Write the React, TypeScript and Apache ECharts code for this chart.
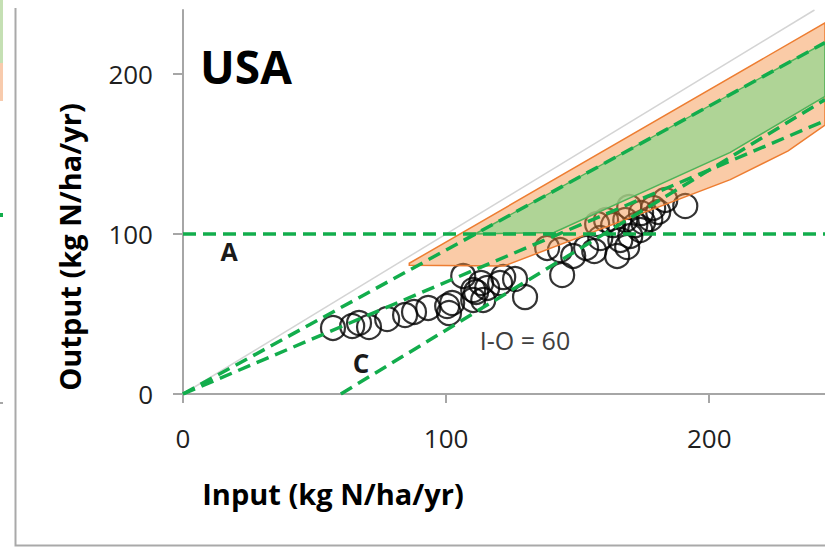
import React, { useEffect, useRef } from "react";
import * as echarts from "echarts";

const FONT = "'Open Sans', 'DejaVu Sans', sans-serif";

// Axis ticks
const xTicks = [0, 100, 200];
const yTicks = [0, 100, 200];
const xMax = 244;
const yMax = 240;

// Scatter observations (input, output) kg N/ha/yr
const inputN = [
  57.0, 64.3, 66.9, 70.7, 77.6, 84.4, 87.8, 93.2, 100.4, 101.1, 102.3, 106.5, 110.3, 111.4,
  113.3, 114.1, 115.6, 120.5, 121.7, 126.2, 130.0, 110.3, 138.4, 143.3, 144.1, 148.3, 153.2,
  156.3, 157.4, 160.8, 165.0, 168.8, 170.0, 169.6, 171.9, 174.1, 174.9, 177.6, 178.7, 183.3,
  190.9, 163.5, 166.2, 173.8, 168.1, 180.6, 158.6,
];
const outputN = [
  41.3, 42.5, 44.4, 41.9, 46.9, 49.4, 51.3, 53.8, 55.0, 50.6, 56.9, 73.8, 58.8, 63.8,
  69.4, 58.8, 66.3, 69.4, 73.1, 71.9, 60.6, 65.0, 91.3, 90.0, 74.4, 86.3, 91.3,
  89.4, 106.3, 108.8, 86.3, 91.9, 98.8, 116.9, 105.6, 113.1, 107.5, 109.4, 116.3, 121.3,
  117.5, 105.6, 96.3, 102.5, 108.8, 113.8, 97.5,
];

// Reference lines (data space)
const lineA = [[0, 100], [244, 100]];
const nue90 = [[0, 0], [244, 219.6]];
const nue70 = [[0, 0], [244, 170.8]];
const surplus60 = [[60, 0], [244, 184]];
const oneToOne = [[0, 0], [240, 240]];

// Regions (data space)
const orangeRegion = [[86, 80.5], [122, 80], [208, 134], [230, 152], [244, 168], [244, 232], [86, 81.7]];
const greenRegion = [[111, 100], [141, 101], [208, 151], [244, 186], [244, 219.6]];

const DASH_GREEN = "#12ad4c";

function dashedLine(data: number[][]) {
  return {
    type: "line",
    data,
    symbol: "none",
    silent: true,
    z: 6,
    lineStyle: { color: DASH_GREEN, width: 3.5, type: [13, 7] },
  };
}

function regionSeries(points: number[][], fill: string, stroke: string, z: number) {
  return {
    type: "custom",
    coordinateSystem: "cartesian2d",
    silent: true,
    clip: true,
    z,
    data: [[0, 0]],
    renderItem: (_params: any, api: any) => ({
      type: "polygon",
      shape: { points: points.map((p) => api.coord(p)) },
      style: { fill, stroke, lineWidth: 1.5 },
    }),
  };
}

function strip(y1: number, y2: number, color: string) {
  return {
    type: "line",
    silent: true,
    shape: { x1: 1.5, y1, x2: 1.5, y2 },
    style: { stroke: color, lineWidth: 3 },
  };
}

export default function App() {
  const ref = useRef<HTMLDivElement>(null);
  useEffect(() => {
    if (!ref.current) return;
    const chart = echarts.init(ref.current, null, { renderer: "svg" });
    const axisLine = { lineStyle: { color: "#a6a6a6", width: 2 } };
    chart.setOption({
      animation: false,
      backgroundColor: "#ffffff",
      grid: { left: 183, top: 10, right: 0, bottom: 154 },
      xAxis: {
        type: "value",
        min: 0,
        max: xMax,
        interval: 100,
        axisLine: { show: true, ...axisLine },
        axisTick: { show: true, length: 9, lineStyle: { color: "#a6a6a6", width: 2 }, customValues: xTicks },
        axisLabel: {
          customValues: xTicks,
          fontFamily: FONT,
          fontSize: 26,
          color: "#1f1f1f",
          margin: 31,
          formatter: (v: number) => (v % 100 === 0 ? String(v) : ""),
        },
        splitLine: { show: false },
      },
      yAxis: {
        type: "value",
        min: 0,
        max: yMax,
        interval: 100,
        axisLine: { show: true, ...axisLine },
        axisTick: { show: true, length: 10, lineStyle: { color: "#a6a6a6", width: 2 }, customValues: yTicks },
        axisLabel: {
          customValues: yTicks,
          fontFamily: FONT,
          fontSize: 26,
          color: "#1f1f1f",
          margin: 30,
          formatter: (v: number) => (v % 100 === 0 ? String(v) : ""),
        },
        splitLine: { show: false },
      },
      series: [
        {
          type: "line",
          data: oneToOne,
          symbol: "none",
          silent: true,
          z: 1,
          lineStyle: { color: "#d4d4d4", width: 1.5 },
        },
        {
          type: "scatter",
          data: inputN.map((x, i) => [x, outputN[i]]),
          symbol: "circle",
          symbolSize: 24,
          silent: true,
          z: 2,
          itemStyle: { color: "rgba(0,0,0,0)", borderColor: "#000000", borderWidth: 2.2 },
        },
        regionSeries(orangeRegion, "rgba(244,140,60,0.45)", "#ed7d31", 3),
        regionSeries(greenRegion, "rgba(150,215,144,0.75)", "#4fb35a", 4),
        dashedLine(lineA),
        dashedLine(nue90),
        dashedLine(nue70),
        dashedLine(surplus60),
      ],
      graphic: [
        // frame of the panel
        {
          type: "polyline",
          silent: true,
          shape: { points: [[15.5, 8], [15.5, 545.5], [825, 545.5]] },
          style: { stroke: "#a9a9a9", lineWidth: 2, fill: "none" },
        },
        // remnants of the neighbouring panel
        strip(0, 63, "#c5e0b4"),
        strip(63, 101, "#f8cbad"),
        strip(213, 217, DASH_GREEN),
        strip(402, 404, "#a6a6a6"),
        {
          type: "text",
          silent: true,
          x: 246,
          y: 66,
          style: { text: "USA", font: `bold 46px ${FONT}`, fill: "#000", align: "center", verticalAlign: "middle" },
        },
        {
          type: "text",
          silent: true,
          x: 229,
          y: 251,
          style: { text: "A", font: `bold 25px ${FONT}`, fill: "#1a1a1a", align: "center", verticalAlign: "middle" },
        },
        {
          type: "text",
          silent: true,
          x: 361,
          y: 363,
          style: { text: "C", font: `bold 26px ${FONT}`, fill: "#1a1a1a", align: "center", verticalAlign: "middle" },
        },
        {
          type: "text",
          silent: true,
          x: 525,
          y: 340,
          style: { text: "I-O = 60", font: `25px ${FONT}`, fill: "#404040", align: "center", verticalAlign: "middle" },
        },
        {
          type: "text",
          silent: true,
          x: 333,
          y: 493,
          style: { text: "Input (kg N/ha/yr)", font: `bold 29px ${FONT}`, fill: "#000", align: "center", verticalAlign: "middle" },
        },
        {
          type: "text",
          silent: true,
          x: 69,
          y: 247,
          rotation: Math.PI / 2,
          style: { text: "Output (kg N/ha/yr)", font: `bold 29px ${FONT}`, fill: "#000", align: "center", verticalAlign: "middle" },
        },
      ],
    });
    return () => chart.dispose();
  }, []);
  return (
    <div
      ref={ref}
      style={{ position: "fixed", left: 0, top: 0, width: 825, height: 548, background: "#fff" }}
    />
  );
}
